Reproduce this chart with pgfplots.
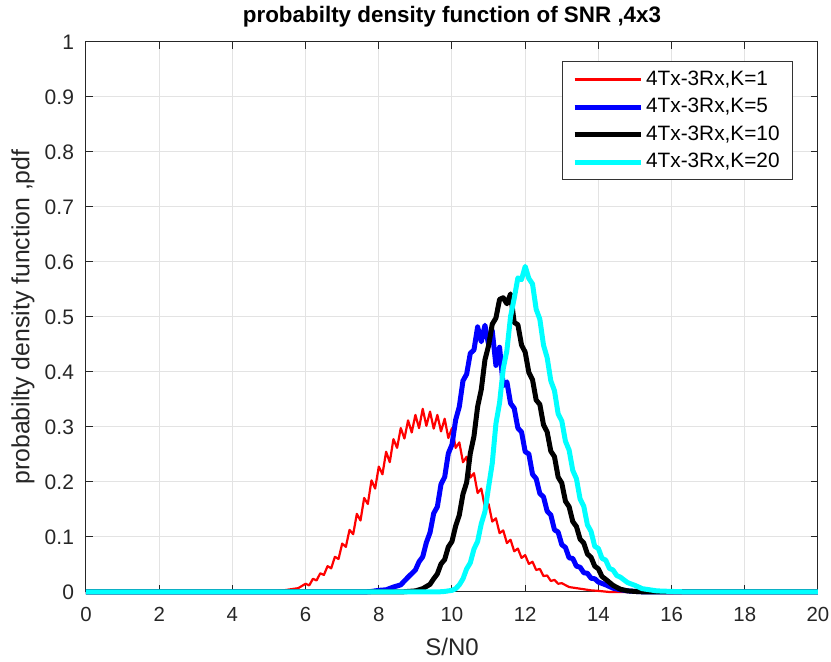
\documentclass[border=0pt]{standalone}
\usepackage{fontspec}
\setmainfont{Liberation Sans}
\usepackage{pgfplots}
\pgfplotsset{compat=1.18}
\definecolor{mred}{RGB}{255,0,0}
\definecolor{mblue}{RGB}{0,0,255}
\definecolor{mcyan}{RGB}{0,255,255}
\begin{document}
\begin{tikzpicture}
\path[use as bounding box] (-43pt,-35pt) rectangle (372.5pt,296pt);
\begin{axis}[
  at={(0pt,0pt)}, anchor=south west,
  scale only axis,
  width=366pt, height=275pt,
  xmin=0, xmax=20, ymin=0, ymax=1,
  xtick={0,2,...,20},
  ytick={0,0.1,...,1},
  yticklabels={0,0.1,0.2,0.3,0.4,0.5,0.6,0.7,0.8,0.9,1},
  /pgf/number format/assume math mode=true,
  xticklabel style={font=\fontsize{10.2}{12}\selectfont, text=black!85, yshift=-4pt},
  yticklabel style={font=\fontsize{10.5}{12}\selectfont, text=black!85, xshift=-2.5pt},
  tick align=inside,
  major tick length=3.5pt,
  tick style={black!85, line width=0.5pt},
  grid=major,
  grid style={gray!22, line width=0.5pt},
  axis line style={black!85, line width=0.5pt},
  clip=false,
  title={\fontsize{11.2}{13}\selectfont\bfseries probabilty density function of SNR ,4x3},
  title style={at={(axis description cs:0.5,1.0236)}, anchor=center},
  xlabel={\fontsize{12}{14}\selectfont S/N0},
  xlabel style={at={(axis description cs:0.5,-0.1)}, anchor=center},
  ylabel={\fontsize{12.4}{14}\selectfont probabilty density function ,pdf},
  ylabel style={at={(axis description cs:-0.086,0.5)}, anchor=center},
  label style={text=black!85},
  legend cell align=left,
  legend image code/.code={\draw[#1] (0pt,0pt) -- (33pt,0pt);},
  legend style={at={(axis cs:19.32,0.965)}, anchor=north east, draw=black!80, line width=0.5pt,
    font=\fontsize{10.4}{12}\selectfont, inner xsep=5pt, inner ysep=3pt, row sep=2pt,
    nodes={inner sep=1.5pt}},
  every axis plot/.append style={line join=round},
]
\addplot[color=mred, line width=1.1pt] coordinates {
(0,0) (5.0,0) (5.2,0.001) (5.4,0.003) (5.6,0.005) (5.8,0.007)
(6.0,0.015) (6.1,0.012) (6.2,0.024) (6.3,0.021) (6.4,0.034) (6.5,0.031) (6.6,0.047) (6.7,0.043) (6.8,0.064) (6.9,0.060)
(7.0,0.088) (7.1,0.082) (7.2,0.113) (7.3,0.105) (7.4,0.142) (7.5,0.130) (7.6,0.171) (7.7,0.160) (7.8,0.203) (7.9,0.188)
(8.0,0.228) (8.1,0.214) (8.2,0.255) (8.3,0.236) (8.4,0.278) (8.5,0.262) (8.6,0.298) (8.7,0.279) (8.8,0.312) (8.9,0.290)
(9.0,0.322) (9.1,0.298) (9.2,0.333) (9.3,0.302) (9.4,0.328) (9.5,0.297) (9.6,0.322) (9.7,0.292) (9.8,0.315) (9.9,0.280)
(10.0,0.298) (10.1,0.262) (10.2,0.272) (10.3,0.236) (10.4,0.246) (10.5,0.208) (10.6,0.216) (10.7,0.180) (10.8,0.188) (10.9,0.154)
(11.0,0.160) (11.1,0.128) (11.2,0.134) (11.3,0.107) (11.4,0.112) (11.5,0.089) (11.6,0.095) (11.7,0.074) (11.8,0.079) (11.9,0.062)
(12.0,0.067) (12.1,0.051) (12.2,0.055) (12.3,0.040) (12.4,0.042) (12.5,0.029) (12.6,0.030) (12.7,0.020) (12.8,0.022) (12.9,0.015)
(13.0,0.016) (13.2,0.009) (13.4,0.007) (13.6,0.005) (13.8,0.003) (14.0,0.002) (14.3,0) (20,0)
};
\addlegendentry{4Tx-3Rx,K=1}
\addplot[color=mblue, line width=2.5pt] coordinates {
(0,0) (7.6,0) (7.8,0.001) (8.0,0.003) (8.2,0.004) (8.4,0.009) (8.6,0.013) (8.8,0.027) (9.0,0.040) (9.1,0.055)
(9.2,0.064) (9.3,0.090) (9.4,0.108) (9.5,0.143) (9.6,0.155) (9.7,0.196) (9.8,0.209) (9.9,0.252) (10.0,0.268) (10.1,0.313)
(10.2,0.337) (10.3,0.384) (10.4,0.396) (10.5,0.434) (10.6,0.440) (10.7,0.482) (10.8,0.455) (10.9,0.485) (11.0,0.450) (11.1,0.475)
(11.2,0.412) (11.3,0.445) (11.4,0.375) (11.5,0.382) (11.6,0.343) (11.7,0.334) (11.8,0.298) (11.9,0.291) (12.0,0.255) (12.1,0.251)
(12.2,0.214) (12.3,0.206) (12.4,0.179) (12.5,0.173) (12.6,0.147) (12.7,0.140) (12.8,0.113) (12.9,0.109) (13.0,0.086) (13.1,0.081)
(13.2,0.062) (13.3,0.061) (13.4,0.047) (13.5,0.045) (13.6,0.035) (13.7,0.034) (13.8,0.025) (13.9,0.024) (14.0,0.018) (14.2,0.013)
(14.4,0.007) (14.6,0.004) (14.8,0.002) (15.0,0.001) (15.3,0) (20,0)
};
\addlegendentry{4Tx-3Rx,K=5}
\addplot[color=black, line width=2.5pt] coordinates {
(0,0) (8.6,0) (8.8,0.001) (9.0,0.002) (9.2,0.006) (9.4,0.014) (9.5,0.024) (9.6,0.033) (9.7,0.051) (9.8,0.059)
(9.9,0.082) (10.0,0.092) (10.1,0.120) (10.2,0.140) (10.3,0.178) (10.4,0.199) (10.5,0.252) (10.6,0.283) (10.7,0.337) (10.8,0.368)
(10.9,0.422) (11.0,0.448) (11.1,0.487) (11.2,0.498) (11.3,0.532) (11.4,0.535) (11.5,0.524) (11.6,0.542) (11.7,0.490) (11.8,0.486)
(11.9,0.449) (12.0,0.436) (12.1,0.399) (12.2,0.386) (12.3,0.349) (12.4,0.341) (12.5,0.304) (12.6,0.291) (12.7,0.256) (12.8,0.246)
(12.9,0.209) (13.0,0.198) (13.1,0.165) (13.2,0.155) (13.3,0.128) (13.4,0.119) (13.5,0.096) (13.6,0.089) (13.7,0.069) (13.8,0.063)
(13.9,0.047) (14.0,0.042) (14.1,0.028) (14.2,0.023) (14.4,0.012) (14.6,0.005) (14.8,0.002) (15.0,0.001) (15.3,0) (20,0)
};
\addlegendentry{4Tx-3Rx,K=10}
\addplot[color=mcyan, line width=2.5pt] coordinates {
(0,0) (9.6,0) (9.8,0.001) (10.0,0.003) (10.1,0.006) (10.2,0.013) (10.3,0.024) (10.4,0.042) (10.5,0.053) (10.6,0.078)
(10.7,0.092) (10.8,0.124) (10.9,0.146) (11.0,0.191) (11.1,0.234) (11.2,0.306) (11.3,0.344) (11.4,0.406) (11.5,0.439) (11.6,0.501)
(11.7,0.534) (11.8,0.571) (11.9,0.568) (12.0,0.592) (12.1,0.570) (12.2,0.560) (12.3,0.514) (12.4,0.496) (12.5,0.449) (12.6,0.426)
(12.7,0.384) (12.8,0.366) (12.9,0.324) (13.0,0.311) (13.1,0.274) (13.2,0.258) (13.3,0.221) (13.4,0.206) (13.5,0.169) (13.6,0.156)
(13.7,0.122) (13.8,0.110) (13.9,0.083) (14.0,0.079) (14.1,0.061) (14.2,0.058) (14.3,0.043) (14.4,0.040) (14.5,0.030) (14.6,0.027)
(14.8,0.017) (15.0,0.012) (15.2,0.006) (15.4,0.004) (15.6,0.002) (16.0,0.001) (16.5,0) (20,0)
};
\addlegendentry{4Tx-3Rx,K=20}
\end{axis}
\end{tikzpicture}
\end{document}
